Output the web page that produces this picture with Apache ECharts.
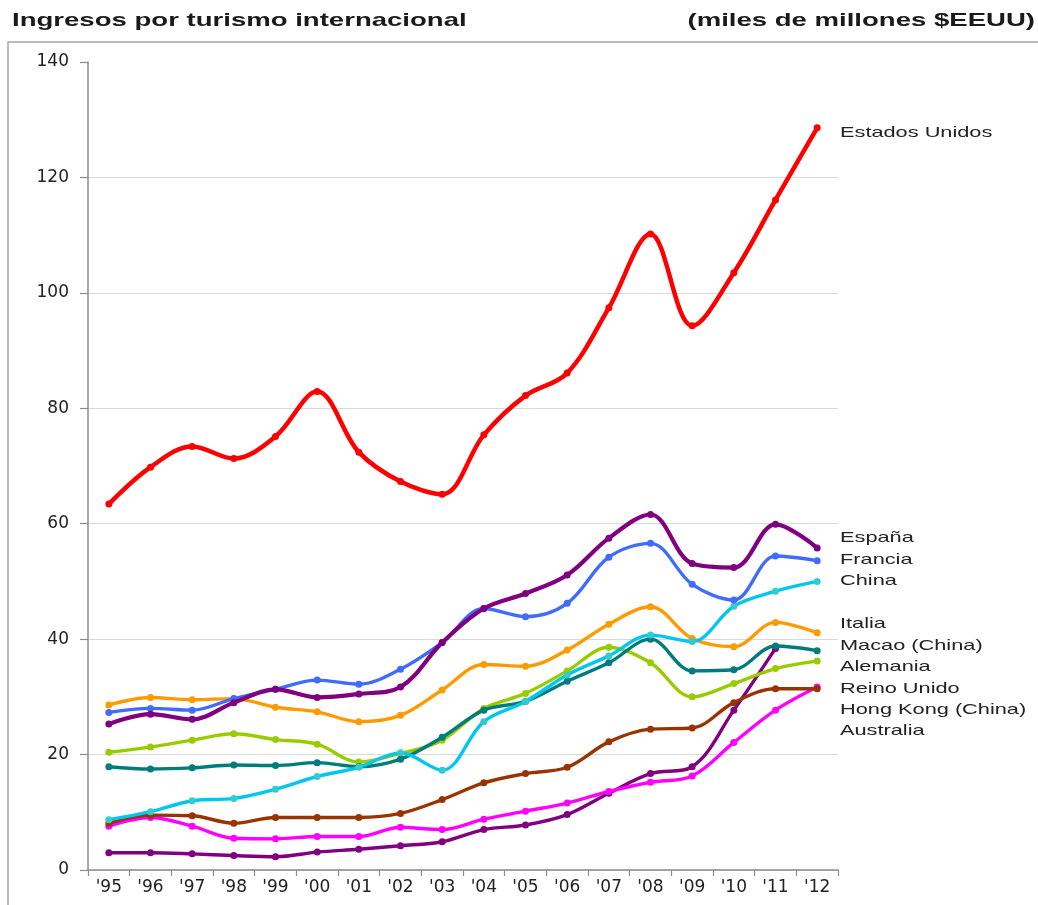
<!DOCTYPE html>
<html>
<head>
<meta charset="utf-8">
<script src="https://cdn.jsdelivr.net/npm/echarts@6/dist/echarts.min.js"></script>
<style>
html,body{margin:0;padding:0;background:#fff;}
#chart{width:1038px;height:905px;}
</style>
</head>
<body>
<div id="chart"></div>
<script>
const years = ["'95","'96","'97","'98","'99","'00","'01","'02","'03","'04","'05","'06","'07","'08","'09","'10","'11","'12"];
const yTicks = [0, 20, 40, 60, 80, 100, 120, 140];

const estadosUnidos = [63.4, 69.8, 73.4, 71.3, 75.1, 82.9, 72.4, 67.3, 65.1, 75.4, 82.2, 86.1, 97.4, 110.2, 94.3, 103.5, 116.1, 128.6];
const espana        = [25.3, 27.0, 26.1, 29.0, 31.3, 29.9, 30.5, 31.7, 39.4, 45.3, 47.9, 51.1, 57.5, 61.6, 53.1, 52.4, 59.9, 55.8];
const francia       = [27.3, 28.0, 27.7, 29.7, 31.3, 32.9, 32.2, 34.8, 39.4, 45.3, 43.9, 46.2, 54.2, 56.6, 49.5, 46.8, 54.4, 53.6];
const china         = [8.7, 10.1, 12.0, 12.4, 14.0, 16.2, 17.8, 20.3, 17.3, 25.7, 29.2, 33.8, 37.1, 40.7, 39.6, 45.7, 48.3, 50.0];
const italia        = [28.6, 29.9, 29.5, 29.7, 28.2, 27.4, 25.7, 26.8, 31.2, 35.6, 35.3, 38.1, 42.6, 45.6, 40.1, 38.7, 42.9, 41.1];
const macao         = [17.9, 17.5, 17.7, 18.2, 18.1, 18.6, 17.9, 19.2, 23.0, 27.7, 29.2, 32.7, 35.9, 40.0, 34.5, 34.7, 38.8, 38.0];
const alemania      = [20.4, 21.3, 22.5, 23.6, 22.6, 21.8, 18.7, 20.2, 22.5, 28.0, 30.6, 34.5, 38.6, 35.9, 30.0, 32.3, 34.9, 36.2];
const reinoUnido    = [8.1, 9.5, 9.4, 8.1, 9.1, 9.1, 9.1, 9.8, 12.2, 15.1, 16.7, 17.8, 22.2, 24.4, 24.6, 29.0, 31.4, 31.4];
const hongKong      = [7.6, 9.1, 7.6, 5.5, 5.4, 5.8, 5.8, 7.4, 7.0, 8.8, 10.2, 11.6, 13.6, 15.2, 16.3, 22.1, 27.7, 31.7];
const australia     = [3.0, 3.0, 2.8, 2.5, 2.3, 3.1, 3.6, 4.2, 4.9, 7.0, 7.8, 9.6, 13.3, 16.7, 17.9, 27.7, 38.4, null];

const seriesNames = ["Estados Unidos","España","Francia","China","Italia","Macao (China)","Alemania","Reino Unido","Hong Kong (China)","Australia"];
const seriesData = [estadosUnidos, espana, francia, china, italia, macao, alemania, reinoUnido, hongKong, australia];
const seriesColors = ["#ff0000","#800080","#3f6bff","#00c6f2","#ff9a00","#007c7c","#99cc00","#993300","#ff00ff","#800080"];
const markerColors = ["#ff0000","#800080","#3f6bff","#33cccc","#ff9a00","#007c7c","#99cc00","#993300","#ff00ff","#800080"];
const lineWidths = [4.5, 4.2, 3.4, 3.4, 3.4, 3.4, 3.4, 3.4, 3.4, 3.4];

const chart = echarts.init(document.getElementById('chart'), null, {renderer: 'canvas'});

const FONT = 'Liberation Sans, Arial, sans-serif';
const AXFONT = 'DejaVu Sans, sans-serif';
const labelTops = [125, 530, 552, 573, 616, 638, 659, 681, 702, 723];

const graphics = [
  {type: 'rect', shape: {x: 8, y: 42, width: 1200, height: 1000}, style: {fill: 'none', stroke: '#a6a6a6', lineWidth: 1.5}, silent: true},
  {type: 'text', x: 12, y: 11, scaleX: 1.45, style: {text: 'Ingresos por turismo internacional', font: 'bold 19px ' + FONT, fill: '#1a1a1a', verticalAlign: 'top', align: 'left'}},
  {type: 'text', x: 1035, y: 11, scaleX: 1.45, style: {text: '(miles de millones $EEUU)', font: 'bold 19px ' + FONT, fill: '#1a1a1a', verticalAlign: 'top', align: 'right'}}
];
seriesNames.forEach(function (n, i) {
  graphics.push({type: 'text', x: 840, y: labelTops[i], scaleX: 1.5, style: {text: n, font: '14.5px ' + FONT, fill: '#222', verticalAlign: 'top', align: 'left'}});
});

chart.setOption({
  animation: false,
  backgroundColor: '#fff',
  grid: {left: 88, right: 200, top: 62, bottom: 35},
  xAxis: {
    type: 'category',
    data: years,
    boundaryGap: true,
    axisLine: {show: true, lineStyle: {color: '#8c8c8c', width: 1.5}},
    axisTick: {show: true, length: 6, lineStyle: {color: '#8c8c8c', width: 1.2}},
    axisLabel: {color: '#222', fontSize: 17, fontFamily: AXFONT, margin: 9}
  },
  yAxis: {
    type: 'value',
    min: yTicks[0],
    max: yTicks[yTicks.length - 1],
    interval: 20,
    axisLine: {show: true, lineStyle: {color: '#8c8c8c', width: 1.5}},
    axisTick: {show: true, length: 8, lineStyle: {color: '#8c8c8c', width: 1.2}},
    axisLabel: {color: '#222', fontSize: 17, fontFamily: AXFONT, margin: 19},
    splitLine: {show: true, showMaxLine: false, lineStyle: {color: '#d9d9d9', width: 1.2}}
  },
  graphic: graphics,
  series: seriesNames.map(function (n, i) {
    return {
      name: n,
      type: 'line',
      data: seriesData[i],
      smooth: 0.35,
      symbol: 'circle',
      symbolSize: 7,
      connectNulls: false,
      lineStyle: {color: seriesColors[i], width: lineWidths[i]},
      itemStyle: {color: markerColors[i]},
      z: 10 - i
    };
  })
});
</script>
</body>
</html>
